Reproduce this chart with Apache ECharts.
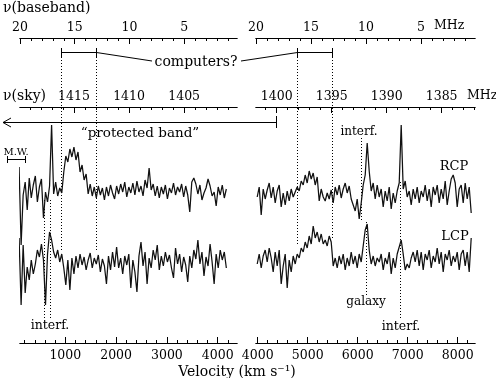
<!DOCTYPE html>
<html><head><meta charset="utf-8">
<script src="https://cdn.jsdelivr.net/npm/echarts@6/dist/echarts.min.js"></script>
<style>html,body{margin:0;padding:0;background:#fff}#c{width:496px;height:378px}</style>
</head><body><div id="c"></div>
<script>
// ---- data (flux in arbitrary units, channel grid in km/s) ----
const leftV0 = 90, rightV0 = 3990, chanDV = 40;
const rcpLeft = [23,-55,-5,8,-20,12,-8,5,14,-12,3,11,-28,-2,-12,4,65,-4,8,-6,2,-3,18,34,28,41,33,43,30,38,18,25,10,16,-4,6,-6,3,-8,4,-5,2,-10,3,-6,5,-3,-9,4,-4,6,-2,8,-7,3,-3,7,-5,9,-2,4,-6,10,2,22,0,6,-6,4,-8,3,-4,5,-9,2,-3,7,-5,3,-2,6,-7,4,-5,-22,8,12,6,-4,5,-10,-3,2,11,4,-6,-2,-16,3,-5,5,-8,1];
const lcpLeft = [24,-43,17,-31,-5,-18,2,-12,-2,12,5,18,2,-43,8,30,22,10,4,12,0,8,-6,-23,2,-28,4,-12,6,-6,8,-3,5,-8,2,9,-6,4,-2,7,-10,3,-4,-22,6,-8,10,-5,15,-6,4,-12,6,-3,8,-26,2,-10,-30,6,20,-4,10,-22,4,-6,12,2,17,-8,6,-4,10,0,7,-6,-16,14,-2,8,-10,5,-3,-20,6,-6,12,3,22,-2,10,-14,5,-4,18,0,-22,8,-6,12,2,10,-6];
const rcpRight = [-2,8,-20,6,-4,5,12,-3,8,-8,4,10,-12,2,-10,4,-6,6,-2,3,8,4,14,10,20,12,24,16,22,10,18,-6,6,-2,-6,2,-4,5,-8,8,0,10,-3,6,12,2,9,-4,-10,-16,-4,-24,-8,10,20,52,24,4,12,-4,10,-2,6,-12,4,-6,8,-14,2,-8,4,12,70,6,14,-2,4,-10,6,-4,8,-8,4,-2,10,-6,6,-12,8,0,10,-8,6,-4,14,-10,4,16,20,12,-12,6,10,-8,12,-4,8,-18];
const lcpRight = [-4,6,-8,4,10,-2,12,2,-12,8,-6,10,-24,-6,6,-28,0,-12,4,-4,6,2,12,8,18,12,24,16,34,22,28,18,26,16,20,14,24,18,-6,2,-8,4,-4,6,-10,2,-6,8,-4,4,-8,6,-2,14,30,36,10,-4,4,-6,2,-2,6,-10,2,-4,8,-14,2,-8,6,4,20,6,-10,-4,-8,2,8,-2,10,-6,8,-10,6,0,10,-8,4,-2,12,-4,8,-12,6,0,10,-6,4,-2,8,-10,6,10,-6,8,-12,22];
// display offsets (stacking of the two polarisations)
const offRL = 0, offLL = -72, offRR = -5, offLR = -70;
// axis ticks
const velTicksL = [1000,2000,3000,4000];
const velTicksR = [4000,5000,6000,7000,8000];
const skyTicksL = [1405,1410,1415];
const skyTicksR = [1385,1390,1395,1400];
const bbTicks = [5,10,15,20];

const FONT = 'DejaVu Serif';
const range = (a,b,s)=>{const r=[];for(let v=a;v<=b+1e-9;v+=s)r.push(+v.toFixed(3));return r;};

function ax(g, pos, off, min, max, inv, ticks, len, labels){
  return {type:'value', gridIndex:g, position:pos, offset:off, min, max, inverse:inv,
    axisLine:{show:true, onZero:false, lineStyle:{color:'#000', width:1}},
    axisTick:{show:true, inside:true, length:len, customValues:ticks, lineStyle:{color:'#000', width:1}},
    axisLabel:{show:labels, customValues:ticks, margin: pos==='bottom'?6:4, color:'#000', fontFamily:FONT, fontSize:12.5, formatter:v=>String(v)},
    splitLine:{show:false}, axisPointer:{show:false}};
}

const xAxis = [
  // left panel
  ax(0,'bottom',13,108,4380,false,velTicksL,6,true),
  ax(0,'bottom',13,108,4380,false,range(200,4200,200),3,false),
  ax(0,'top',8,1400.2,1419.9,true,skyTicksL,6,true),
  ax(0,'top',8,1400.2,1419.9,true,range(1401,1419,1),3,false),
  ax(0,'top',77,0.18,20,true,bbTicks,6,true),
  ax(0,'top',77,0.18,20,true,range(1,19,1),3,false),
  // right panel
  ax(1,'bottom',13,3966,8346,false,velTicksR,6,true),
  ax(1,'bottom',13,3966,8346,false,range(4200,8200,200),3,false),
  ax(1,'top',8,1381.97,1401.88,true,skyTicksR,6,true),
  ax(1,'top',8,1381.97,1401.88,true,range(1382,1401,1),3,false),
  ax(1,'top',77,0.09,20,true,bbTicks,6,true),
  ax(1,'top',77,0.09,20,true,range(1,19,1),3,false)
];

function ser(arr, v0, off, xi, yi){
  return {type:'line', xAxisIndex:xi, yAxisIndex:yi, clip:false, showSymbol:false, symbol:'none',
    silent:true, animation:false,
    lineStyle:{color:'#111', width:1.25},
    data: arr.map((f,i)=>[v0 + i*chanDV, f + off])};
}

function txt(t, x, y, size, align){
  return {type:'text', x, y, style:{text:t, font: size+'px "'+FONT+'"', fill:'#000', align:align||'center', verticalAlign:'middle'}};
}
function ln(x1,y1,x2,y2,dash){
  return {type:'line', shape:{x1,y1,x2,y2}, style:{stroke:'#000', lineWidth:1, lineDash:dash?[1,2]:null}};
}

const graphic = [
  txt('ν(baseband)',3,8,14,'left'),
  txt('MHz',434,26,12.5,'left'),
  txt('ν(sky)',3,96,14,'left'),
  txt('MHz',467,96,12.5,'left'),
  txt('“protected band”',140,133,13.5),
  txt('M.W.',16,152,10),
  txt('computers?',196,62,14),
  txt('interf.',359,132,12),
  txt('RCP',454,167,13),
  txt('LCP',455,237,13),
  txt('galaxy',366,302,12),
  txt('interf.',50,326,12.5),
  txt('interf.',401,327,12.5),
  txt('Velocity (km s⁻¹)',237,372,14),
  // computers? brackets
  ln(61.5,52.5,96.5,52.5), ln(61.5,48,61.5,57), ln(96.5,48,96.5,57),
  ln(297.5,52.5,332.5,52.5), ln(297.5,48,297.5,57), ln(332.5,48,332.5,57),
  ln(96.5,52.5,152,61), ln(241,61,297.5,52.5),
  // dotted guides
  ln(61.5,57,61.5,252,true), ln(96.5,57,96.5,252,true),
  ln(297.5,57,297.5,245,true), ln(332.5,57,332.5,240,true),
  ln(44.5,200,44.5,318,true), ln(50.5,200,50.5,320,true),
  ln(361.5,138,361.5,222,true), ln(366.5,222,366.5,295,true),
  ln(400.5,182,400.5,318,true),
  // protected band arrow
  ln(3,122.5,276.5,122.5), ln(3,122.5,11,118), ln(3,122.5,11,127), ln(276.5,116,276.5,128),
  // M.W. bar
  ln(7,159.5,25,159.5), ln(7.5,156,7.5,163), ln(25.5,156,25.5,163)
];

const chart = echarts.init(document.getElementById('c'), null, {renderer:'canvas'});
chart.setOption({
  animation:false,
  backgroundColor:'#fff',
  grid:[
    {left:20, width:217, top:115, height:215, containLabel:false, outerBoundsMode:'none'},
    {left:256, width:219, top:115, height:215, containLabel:false, outerBoundsMode:'none'}
  ],
  xAxis,
  yAxis:[
    {type:'value', gridIndex:0, min:-140, max:75, show:false},
    {type:'value', gridIndex:1, min:-140, max:75, show:false}
  ],
  series:[
    ser(rcpLeft, leftV0, offRL, 0, 0),
    ser(lcpLeft, leftV0, offLL, 0, 0),
    ser(rcpRight, rightV0, offRR, 6, 1),
    ser(lcpRight, rightV0, offLR, 6, 1)
  ],
  graphic
});
</script></body></html>
